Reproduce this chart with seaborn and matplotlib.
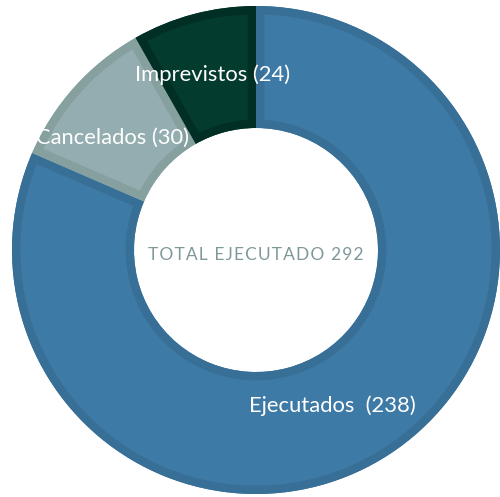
import matplotlib
matplotlib.use("Agg")
import matplotlib.pyplot as plt
from matplotlib.patches import Wedge
import seaborn as sns
import numpy as np

categories = ["Ejecutados", "Cancelados", "Imprevistos"]
values = [238, 30, 24]
label_texts = ["Ejecutados  (238)", "Cancelados (30)", "Imprevistos (24)"]
center_text = "TOTAL EJECUTADO 292"

fills = ["#3e7aa6", "#94adb0", "#033b2f"]
borders = ["#376f96", "#86a0a0", "#022f25"]

sns.set_theme(style="white")
plt.rcParams['font.family'] = ['Lato', 'DejaVu Sans']

fig = plt.figure(figsize=(5.0, 4.97), dpi=100)
ax = fig.add_axes([0, 0, 1, 1])
R = 244.0
cx, cy = 256.0, 250.0

wedges, _ = ax.pie(values, colors=fills, startangle=90, counterclock=False,
                   radius=1.0, wedgeprops=dict(width=0.5, linewidth=0))
ax.set_xlim(-cx / R, (500 - cx) / R)
ax.set_ylim(-(497 - cy) / R, cy / R)
ax.set_aspect('equal', adjustable='box')
ax.set_axis_off()

# inner border, clipped to each wedge
for w, b in zip(wedges, borders):
    edge = Wedge(w.center, w.r, w.theta1, w.theta2, width=w.width,
                 facecolor="none", edgecolor=b, linewidth=12)
    ax.add_patch(edge)
    edge.set_clip_path(w)

label_r = [0.71, 0.745, 0.74]
label_shift = [-7, 4, -1]
for w, t, r, s in zip(wedges, label_texts, label_r, label_shift):
    ang = np.deg2rad((w.theta1 + w.theta2) / 2 + s)
    ax.text(r * np.cos(ang), r * np.sin(ang), "\u200a".join(t.split(" ")).replace("\u200a", " ") if False else t,
            ha="center", va="center", color="white", fontsize=15.8, zorder=5)

ax.text(0, -0.02, "\u200a".join(center_text), ha="center", va="center",
        color="#7e989a", fontsize=12.5, zorder=5)

fig.savefig("out.png", dpi=100)
